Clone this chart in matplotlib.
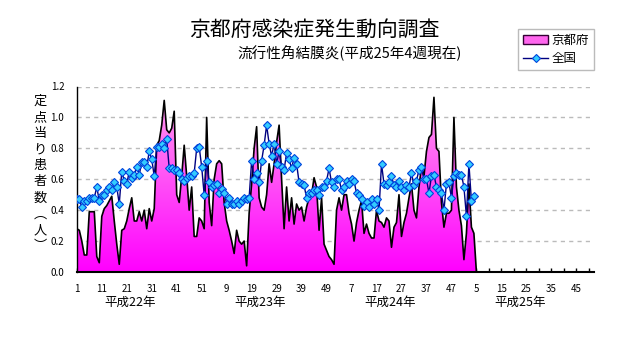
import numpy as np
import matplotlib
matplotlib.use("Agg")
import matplotlib.pyplot as plt
from matplotlib.patches import Polygon, Patch
from matplotlib.lines import Line2D
from matplotlib.colors import LinearSegmentedColormap

plt.rcParams['font.family'] = ['Noto Sans CJK JP', 'DejaVu Sans']

# 定点当り患者数 (京都府), 週ごと
kyoto_h22 = [0.28, 0.27, 0.20, 0.11, 0.11, 0.39, 0.39, 0.39, 0.10, 0.06,
             0.36, 0.41, 0.43, 0.46, 0.49, 0.33, 0.18, 0.05, 0.27, 0.28,
             0.33, 0.41, 0.48, 0.33, 0.33, 0.39, 0.33, 0.40, 0.28, 0.41,
             0.33, 0.41, 0.82, 0.85, 0.95, 1.11, 0.92, 0.90, 0.93, 1.04,
             0.50, 0.45, 0.62, 0.82, 0.62, 0.40, 0.55, 0.23, 0.23, 0.35,
             0.33, 0.28]
kyoto_h23 = [1.00, 0.45, 0.30, 0.60, 0.70, 0.72, 0.70, 0.45, 0.33, 0.27,
             0.20, 0.12, 0.27, 0.20, 0.18, 0.20, 0.04, 0.38, 0.57, 0.80,
             0.94, 0.48, 0.42, 0.40, 0.50, 0.70, 0.58, 0.70, 0.84, 0.95,
             0.60, 0.28, 0.55, 0.33, 0.48, 0.31, 0.44, 0.40, 0.42, 0.33,
             0.42, 0.48, 0.50, 0.61, 0.55, 0.27, 0.48, 0.18, 0.14, 0.10,
             0.08, 0.05]
kyoto_h24 = [0.40, 0.48, 0.40, 0.50, 0.50, 0.38, 0.31, 0.20, 0.32, 0.40,
             0.46, 0.25, 0.31, 0.25, 0.22, 0.22, 0.40, 0.33, 0.32, 0.29,
             0.35, 0.33, 0.16, 0.29, 0.32, 0.50, 0.23, 0.32, 0.38, 0.48,
             0.57, 0.40, 0.35, 0.55, 0.68, 0.62, 0.78, 0.87, 0.89, 1.13,
             0.80, 0.78, 0.45, 0.29, 0.38, 0.38, 0.40, 1.00, 0.55, 0.40,
             0.30, 0.08]
kyoto_h25 = [0.25, 0.57, 0.29, 0.25]

# 全国
zenkoku_h22 = [0.475, 0.47, 0.42, 0.46, 0.46, 0.48, 0.48, 0.48, 0.55, 0.46,
               0.50, 0.50, 0.53, 0.55, 0.53, 0.58, 0.55, 0.44, 0.65, 0.59,
               0.57, 0.65, 0.61, 0.63, 0.68, 0.63, 0.71, 0.71, 0.68, 0.78,
               0.73, 0.62, 0.81, 0.81, 0.83, 0.80, 0.86, 0.67, 0.67, 0.66,
               0.66, 0.64, 0.60, 0.59, 0.61, 0.62, 0.62, 0.64, 0.80, 0.81,
               0.68, 0.50]
zenkoku_h23 = [0.72, 0.58, 0.55, 0.56, 0.57, 0.51, 0.54, 0.51, 0.44, 0.48,
               0.44, 0.44, 0.46, 0.44, 0.46, 0.48, 0.47, 0.48, 0.72, 0.60,
               0.64, 0.58, 0.72, 0.82, 0.95, 0.83, 0.75, 0.83, 0.70, 0.78,
               0.68, 0.66, 0.77, 0.73, 0.67, 0.74, 0.70, 0.58, 0.57, 0.56,
               0.48, 0.51, 0.51, 0.53, 0.53, 0.50, 0.55, 0.55, 0.59, 0.67,
               0.58, 0.55]
zenkoku_h24 = [0.60, 0.60, 0.53, 0.55, 0.59, 0.57, 0.60, 0.59, 0.51, 0.50,
               0.47, 0.43, 0.45, 0.42, 0.47, 0.44, 0.47, 0.40, 0.70, 0.57,
               0.56, 0.58, 0.62, 0.56, 0.55, 0.59, 0.55, 0.53, 0.56, 0.55,
               0.64, 0.56, 0.59, 0.66, 0.68, 0.60, 0.60, 0.51, 0.62, 0.63,
               0.55, 0.53, 0.51, 0.40, 0.57, 0.58, 0.48, 0.62, 0.64, 0.63,
               0.63, 0.55]
zenkoku_h25 = [0.36, 0.70, 0.46, 0.49]

week_labels = ['1', '11', '21', '31', '41', '51', '9', '19', '29', '39', '49',
               '7', '17', '27', '37', '47', '5', '15', '25', '35', '45']
year_labels = ['平成22年', '平成23年', '平成24年', '平成25年']
n_weeks = 208  # 4年分

kyoto = kyoto_h22 + kyoto_h23 + kyoto_h24 + kyoto_h25
zenkoku = zenkoku_h22 + zenkoku_h23 + zenkoku_h24 + zenkoku_h25

fig = plt.figure(figsize=(6.32, 3.48), dpi=100)
ax = fig.add_axes([76.8 / 632, 76 / 348, 517 / 632, 185.5 / 348])

# 最終週の次の空白はゼロとして描かれる
xk = np.arange(len(kyoto) + 1)
yk = np.array(kyoto + [0.0])

clip = Polygon(np.column_stack([np.r_[xk[0], xk, xk[-1]], np.r_[0, yk, 0]]),
               closed=True, transform=ax.transData, facecolor='none', edgecolor='none')
ax.add_patch(clip)
cmap = LinearSegmentedColormap.from_list('pk', ['#FF00FF', '#FF9CEE'])
grad = np.linspace(0, 1, 256).reshape(-1, 1)
im = ax.imshow(grad, cmap=cmap, origin='lower', extent=[0, n_weeks - 1, 0, 1.15],
               aspect='auto', zorder=1)
im.set_clip_path(clip)
ax.plot(xk, yk, color='black', lw=1.2, zorder=2)

xn = np.arange(len(zenkoku))
ax.plot(xn, zenkoku, color='#000080', lw=1, marker='D', ms=4.5,
        mfc='#33CCFF', mec='#0044DD', mew=0.8, zorder=3)

ax.set_xlim(0, n_weeks - 1)
ax.set_ylim(0, 1.2)
ax.set_axisbelow(True)
ax.grid(True, axis='y', color='#BBBBBB', linestyle=(0, (3, 3)), lw=1)

ax.set_xticks(np.arange(0, 201, 10))
ax.set_xticklabels(week_labels, fontsize=7)
ax.set_xticks(np.arange(5, n_weeks, 10), minor=True)
ax.tick_params(axis='x', which='both', direction='in', length=3, width=1, pad=9)
ax.set_yticks(np.arange(0, 1.21, 0.2))
ax.set_yticklabels(['%.1f' % v for v in np.arange(0, 1.21, 0.2)], fontsize=7)
ax.tick_params(axis='y', length=0, pad=9)

for s in ['top', 'right']:
    ax.spines[s].set_visible(False)
ax.spines['left'].set_linewidth(1)
ax.spines['bottom'].set_linewidth(1.5)

for k, lab in enumerate(year_labels):
    ax.text(52 * k + 21.5, -0.165, lab, transform=ax.get_xaxis_transform(),
            ha='center', va='center', fontsize=9)

# 縦書きの軸ラベル
ylab = ['定', '点', '当', 'り', '患', '者', '数', '︵', '人', '︶']
for k, ch in enumerate(ylab):
    fig.text(40 / 632, 1 - (101 + 16.2 * k) / 348, ch, ha='center', va='center', fontsize=9.5)

fig.text(314 / 632, 1 - 30 / 348, '京都府感染症発生動向調査', ha='center', va='center', fontsize=15)
fig.text(350 / 632, 1 - 53 / 348, '流行性角結膜炎(平成25年4週現在)', ha='center', va='center', fontsize=10.5)

handles = [Patch(facecolor='#FF66EE', edgecolor='#330033', lw=1),
           Line2D([], [], color='#000080', lw=1, marker='D', ms=4.5,
                  mfc='#33CCFF', mec='#0044DD', mew=0.8)]
leg = fig.legend(handles, ['京都府', '全国'], loc='upper left',
                 bbox_to_anchor=(518 / 632, 1 - 29 / 348), fontsize=9,
                 frameon=True, fancybox=False, handlelength=2.0,
                 borderpad=0.4, labelspacing=0.4, handletextpad=0.3, borderaxespad=0)
leg.get_frame().set_edgecolor('#AAAAAA')
leg.get_frame().set_linewidth(1)

fig.savefig('out.png', dpi=100)
